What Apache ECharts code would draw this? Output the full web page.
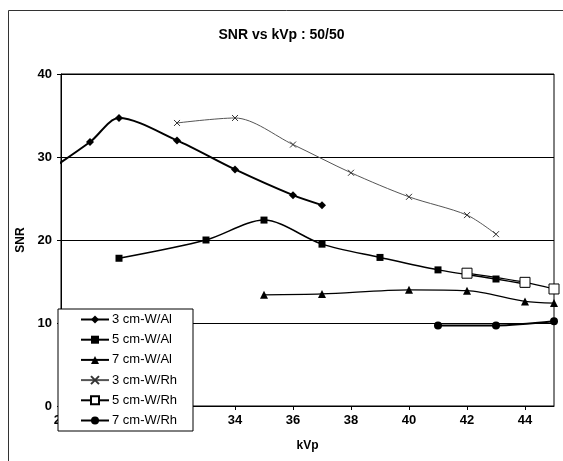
<!DOCTYPE html>
<html><head><meta charset="utf-8">
<script src="https://cdn.jsdelivr.net/npm/echarts@6/dist/echarts.min.js"></script>
<style>html,body{margin:0;padding:0;background:#fff}#c{width:563px;height:461px}</style>
</head><body><div id="c"></div>
<script>
const xTicks = [28, 30, 32, 34, 36, 38, 40, 42, 44];
const yTicks = [0, 10, 20, 30, 40];
const kvp3Al = [27, 29, 30, 32, 34, 36, 37];
const snr3Al = [27.0, 31.8, 34.7, 32.0, 28.5, 25.4, 24.2];
const kvp5Al = [30, 33, 35, 37, 39, 41, 43, 44];
const snr5Al = [17.8, 20.0, 22.4, 19.5, 17.9, 16.4, 15.3, 14.7];
const kvp7Al = [35, 37, 40, 42, 44, 45];
const snr7Al = [13.4, 13.5, 14.0, 13.9, 12.6, 12.4];
const kvp3Rh = [32, 34, 36, 38, 40, 42, 43];
const snr3Rh = [34.1, 34.7, 31.5, 28.1, 25.2, 23.0, 20.7];
const kvp5Rh = [42, 44, 45];
const snr5Rh = [16.0, 14.9, 14.1];
const kvp7Rh = [41, 43, 45];
const snr7Rh = [9.7, 9.7, 10.2];
const names = ['3 cm-W/Al', '5 cm-W/Al', '7 cm-W/Al', '3 cm-W/Rh', '5 cm-W/Rh', '7 cm-W/Rh'];

const zip = (a, b) => a.map((v, i) => [v, b[i]]);
const F = 'Liberation Sans, Arial, sans-serif';
const chart = echarts.init(document.getElementById('c'));
const base = {type: 'line', smooth: 0.3, clip: true, z: 3};
chart.setOption({
  animation: false,
  backgroundColor: '#fff',
  title: {text: 'SNR vs kVp : 50/50', left: 'center', top: 23,
    textStyle: {fontFamily: F, fontSize: 14, fontWeight: 'bold', color: '#000'}},
  grid: {left: 61, right: 9, top: 74, bottom: 55, show: true, borderColor: '#000', borderWidth: 1},
  xAxis: {type: 'value', min: xTicks[0], max: 45, interval: 2,
    name: 'kVp', nameLocation: 'middle', nameGap: 34,
    nameTextStyle: {fontFamily: F, fontSize: 12, fontWeight: 'bold', color: '#000'},
    axisLine: {lineStyle: {color: '#000'}},
    axisTick: {show: true, length: 4, lineStyle: {color: '#000'}},
    axisLabel: {showMaxLabel: false, fontFamily: F, fontSize: 13, fontWeight: 'bold', color: '#000', margin: 8},
    splitLine: {show: false}},
  yAxis: {type: 'value', min: yTicks[0], max: yTicks[yTicks.length - 1], interval: 10,
    name: 'SNR', nameLocation: 'middle', nameGap: 34, nameRotate: 90,
    nameTextStyle: {fontFamily: F, fontSize: 12, fontWeight: 'bold', color: '#000'},
    axisLine: {show: true, lineStyle: {color: '#000'}},
    axisTick: {show: true, length: 4, lineStyle: {color: '#000'}},
    axisLabel: {fontFamily: F, fontSize: 13, fontWeight: 'bold', color: '#000', margin: 9},
    splitLine: {show: true, lineStyle: {color: '#000', width: 1}}},
  legend: {orient: 'vertical', left: 58, top: 309, backgroundColor: '#fff',
    borderColor: '#000', borderWidth: 1, padding: [4, 16, 4, 22], itemGap: 7.2,
    itemWidth: 28, itemHeight: 10, z: 10,
    textStyle: {fontFamily: F, fontSize: 13, color: '#000', padding: [0, 0, 0, -2]},
    data: names},
  graphic: [{type: 'rect', shape: {x: 8.5, y: 10.5, width: 600, height: 500},
    style: {fill: 'none', stroke: '#333', lineWidth: 1}, z: 0}],
  series: [
    Object.assign({}, base, {name: names[0], data: zip(kvp3Al, snr3Al), symbol: 'diamond', symbolSize: 8,
      lineStyle: {color: '#000', width: 2}, itemStyle: {color: '#000'}}),
    Object.assign({}, base, {name: names[1], data: zip(kvp5Al, snr5Al), symbol: 'rect', symbolSize: 7,
      lineStyle: {color: '#000', width: 1.5}, itemStyle: {color: '#000'}}),
    Object.assign({}, base, {name: names[2], data: zip(kvp7Al, snr7Al), symbol: 'triangle', symbolSize: 8,
      lineStyle: {color: '#000', width: 1.2}, itemStyle: {color: '#000'}}),
    Object.assign({}, base, {name: names[3], data: zip(kvp3Rh, snr3Rh), symbol: 'path://M0,0L10,10M10,0L0,10', symbolSize: 6,
      lineStyle: {color: '#555', width: 1}, itemStyle: {color: 'rgba(0,0,0,0)', borderColor: '#333', borderWidth: 1}}),
    Object.assign({}, base, {name: names[4], data: zip(kvp5Rh, snr5Rh), symbol: 'rect', symbolSize: 10, z: 4,
      lineStyle: {color: '#000', width: 1.2}, itemStyle: {color: '#fff', borderColor: '#000', borderWidth: 1}}),
    Object.assign({}, base, {name: names[5], data: zip(kvp7Rh, snr7Rh), symbol: 'circle', symbolSize: 8,
      lineStyle: {color: '#000', width: 2}, itemStyle: {color: '#000'}})
  ]
});
</script></body></html>
